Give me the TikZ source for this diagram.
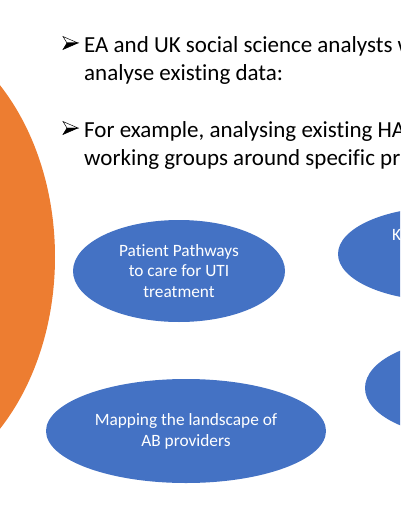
\documentclass[tikz,border=0pt]{standalone}
\usepackage{fontspec}
\setmainfont[Ligatures=NoCommon]{Carlito}
\usetikzlibrary{shapes.geometric}

\definecolor{slideorange}{HTML}{ED7D31}
\definecolor{slideblue}{HTML}{4472C4}

\begin{document}
\begin{tikzpicture}[
  x=1pt,
  y=-1pt,
  topic/.style={ellipse, fill=slideblue, draw=none, inner sep=0pt,
    text=white, align=center, font=\fontsize{17.3}{20.8}\selectfont},
  bullettext/.style={anchor=base west, align=left, inner sep=0pt,
    font=\fontsize{23}{28}\selectfont},
  arrowlit/.style={draw=black, fill=white, line width=0.5pt, line join=miter},
  arrowdark/.style={draw=black, fill=black, line width=0.5pt, line join=miter}
]
  \useasboundingbox (0,0) rectangle (400,516);
  \clip (0,0) rectangle (400,516);

  % big orange shape on the left
  \fill[slideorange] (-120,257) ellipse [x radius=175, y radius=236];

  % arrowhead bullets
  \foreach \y in {43,128} {
    \draw[arrowlit] (78,\y) -- (63,\y-6.5) -- (67,\y) -- cycle;
    \draw[arrowdark] (78,\y) -- (67,\y) -- (63,\y+6.5) -- cycle;
  }

  % bullet points (base anchor sits on the last line)
  \node[bullettext] (point1) at (84,81)
    {EA and UK social science analysts w\\analyse existing data:};
  \node[bullettext] (point2) at (84,165)
    {For example, analysing existing HA\\working groups around specific pr};

  % topic ellipses
  \node[topic, minimum width=212, minimum height=102] (pathways) at (179,271)
    {Patient Pathways\\to care for UTI\\treatment};
  \node[topic, minimum width=280, minimum height=104] (landscape) at (186,431)
    {Mapping the landscape of\\AB providers};
  \node[topic, minimum width=212, minimum height=94] (topright) at (444,254) {};
  \node[anchor=base west, inner sep=0pt, text=white,
    font=\fontsize{17.3}{20.8}\selectfont] (topk) at (392,240) {K};
  \node[topic, minimum width=200, minimum height=98] (lowright) at (465,388) {};
\end{tikzpicture}
\end{document}
